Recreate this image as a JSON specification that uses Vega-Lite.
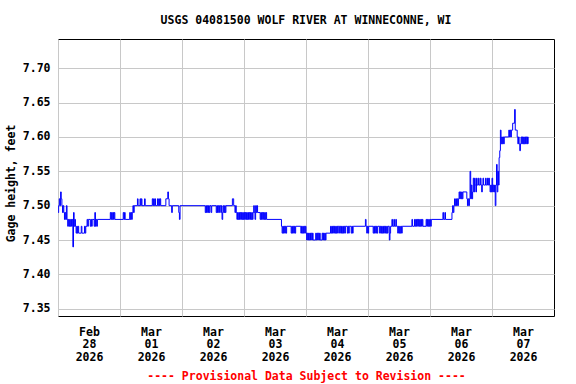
{
"$schema": "https://vega.github.io/schema/vega-lite/v6.json",
"width": 496, "height": 277,
"autosize": {"type": "none"},
"padding": {"left": 58, "top": 39, "right": 22, "bottom": 68},
"background": "white",
"title": {"text": "USGS 04081500 WOLF RIVER AT WINNECONNE, WI", "font": "DejaVu Sans Mono", "fontSize": 11.5, "fontWeight": "bold", "color": "black", "anchor": "middle", "frame": "group", "baseline": "alphabetic", "offset": 15, "dy": 11},
"config": {"view": {"stroke": "black", "strokeWidth": 1},
 "axis": {"labelFont": "DejaVu Sans Mono", "labelFontSize": 11.5, "labelFontWeight": "bold", "labelColor": "black", "titleFont": "DejaVu Sans Mono", "titleFontSize": 11.5, "titleFontWeight": "bold", "titleColor": "black", "gridColor": "#c8c8c8", "gridOpacity": 1, "gridWidth": 1, "domain": false, "ticks": false}},
"data": {"values": [
{"t":"2026-02-28T00:00","v":7.49},{"t":"2026-02-28T00:15","v":7.50},{"t":"2026-02-28T00:30","v":7.51},{"t":"2026-02-28T00:45","v":7.50},{"t":"2026-02-28T01:00","v":7.52},{"t":"2026-02-28T01:15","v":7.51},{"t":"2026-02-28T01:30","v":7.50},{"t":"2026-02-28T01:45","v":7.49},{"t":"2026-02-28T02:00","v":7.50},{"t":"2026-02-28T02:15","v":7.49},{"t":"2026-02-28T02:30","v":7.48},{"t":"2026-02-28T02:45","v":7.49},{"t":"2026-02-28T03:00","v":7.48},{"t":"2026-02-28T03:15","v":7.50},{"t":"2026-02-28T03:30","v":7.48},{"t":"2026-02-28T03:45","v":7.47},{"t":"2026-02-28T04:00","v":7.48},{"t":"2026-02-28T04:15","v":7.47},{"t":"2026-02-28T04:30","v":7.48},{"t":"2026-02-28T04:45","v":7.47},{"t":"2026-02-28T05:00","v":7.48},{"t":"2026-02-28T05:15","v":7.47},{"t":"2026-02-28T05:30","v":7.48},{"t":"2026-02-28T05:45","v":7.44},{"t":"2026-02-28T06:00","v":7.49},{"t":"2026-02-28T06:15","v":7.47},{"t":"2026-02-28T06:30","v":7.48},{"t":"2026-02-28T06:45","v":7.47},{"t":"2026-02-28T07:00","v":7.46},{"t":"2026-02-28T07:15","v":7.47},{"t":"2026-02-28T07:30","v":7.46},{"t":"2026-02-28T07:45","v":7.47},{"t":"2026-02-28T08:00","v":7.46},{"t":"2026-02-28T09:00","v":7.47},{"t":"2026-02-28T09:15","v":7.46},{"t":"2026-02-28T10:15","v":7.47},{"t":"2026-02-28T10:30","v":7.46},{"t":"2026-02-28T10:45","v":7.47},{"t":"2026-02-28T11:15","v":7.48},{"t":"2026-02-28T11:30","v":7.47},{"t":"2026-02-28T11:45","v":7.48},{"t":"2026-02-28T12:30","v":7.47},{"t":"2026-02-28T12:45","v":7.48},{"t":"2026-02-28T13:00","v":7.47},{"t":"2026-02-28T13:15","v":7.48},{"t":"2026-02-28T14:00","v":7.47},{"t":"2026-02-28T14:15","v":7.49},{"t":"2026-02-28T14:30","v":7.47},{"t":"2026-02-28T14:45","v":7.48},{"t":"2026-02-28T15:00","v":7.47},{"t":"2026-02-28T15:15","v":7.48},{"t":"2026-02-28T20:15","v":7.49},{"t":"2026-02-28T20:30","v":7.48},{"t":"2026-02-28T20:45","v":7.49},{"t":"2026-02-28T21:00","v":7.48},{"t":"2026-02-28T21:15","v":7.49},{"t":"2026-02-28T21:30","v":7.48},{"t":"2026-02-28T21:45","v":7.49},{"t":"2026-02-28T22:00","v":7.48},
{"t":"2026-03-01T01:15","v":7.49},{"t":"2026-03-01T01:30","v":7.48},{"t":"2026-03-01T01:45","v":7.49},{"t":"2026-03-01T02:00","v":7.48},{"t":"2026-03-01T03:45","v":7.49},{"t":"2026-03-01T04:00","v":7.48},{"t":"2026-03-01T04:15","v":7.49},{"t":"2026-03-01T04:30","v":7.48},{"t":"2026-03-01T04:45","v":7.49},{"t":"2026-03-01T05:00","v":7.50},{"t":"2026-03-01T05:15","v":7.49},{"t":"2026-03-01T05:30","v":7.50},{"t":"2026-03-01T06:45","v":7.51},{"t":"2026-03-01T07:00","v":7.50},{"t":"2026-03-01T07:45","v":7.51},{"t":"2026-03-01T08:00","v":7.50},{"t":"2026-03-01T08:15","v":7.51},{"t":"2026-03-01T08:30","v":7.50},{"t":"2026-03-01T09:30","v":7.51},{"t":"2026-03-01T09:45","v":7.50},{"t":"2026-03-01T12:30","v":7.51},{"t":"2026-03-01T12:45","v":7.50},{"t":"2026-03-01T13:00","v":7.51},{"t":"2026-03-01T13:15","v":7.50},{"t":"2026-03-01T13:30","v":7.51},{"t":"2026-03-01T13:45","v":7.50},{"t":"2026-03-01T14:30","v":7.51},{"t":"2026-03-01T14:45","v":7.50},{"t":"2026-03-01T15:00","v":7.51},{"t":"2026-03-01T15:15","v":7.50},{"t":"2026-03-01T15:30","v":7.51},{"t":"2026-03-01T15:45","v":7.50},{"t":"2026-03-01T17:45","v":7.51},{"t":"2026-03-01T18:30","v":7.52},{"t":"2026-03-01T18:45","v":7.51},{"t":"2026-03-01T19:00","v":7.50},{"t":"2026-03-01T20:00","v":7.49},{"t":"2026-03-01T20:15","v":7.50},{"t":"2026-03-01T22:45","v":7.49},{"t":"2026-03-01T23:00","v":7.48},{"t":"2026-03-01T23:15","v":7.50},
{"t":"2026-03-02T09:00","v":7.49},{"t":"2026-03-02T09:15","v":7.50},{"t":"2026-03-02T09:30","v":7.49},{"t":"2026-03-02T09:45","v":7.50},{"t":"2026-03-02T10:00","v":7.49},{"t":"2026-03-02T10:15","v":7.50},{"t":"2026-03-02T10:30","v":7.49},{"t":"2026-03-02T10:45","v":7.50},{"t":"2026-03-02T11:15","v":7.49},{"t":"2026-03-02T11:30","v":7.50},{"t":"2026-03-02T13:15","v":7.49},{"t":"2026-03-02T13:30","v":7.50},{"t":"2026-03-02T13:45","v":7.49},{"t":"2026-03-02T14:00","v":7.50},{"t":"2026-03-02T14:15","v":7.49},{"t":"2026-03-02T14:30","v":7.50},{"t":"2026-03-02T15:00","v":7.49},{"t":"2026-03-02T15:15","v":7.50},{"t":"2026-03-02T15:30","v":7.48},{"t":"2026-03-02T15:45","v":7.49},{"t":"2026-03-02T16:00","v":7.50},{"t":"2026-03-02T16:15","v":7.49},{"t":"2026-03-02T16:30","v":7.50},{"t":"2026-03-02T16:45","v":7.49},{"t":"2026-03-02T17:00","v":7.50},{"t":"2026-03-02T19:30","v":7.51},{"t":"2026-03-02T20:00","v":7.50},{"t":"2026-03-02T20:30","v":7.49},{"t":"2026-03-02T20:45","v":7.50},{"t":"2026-03-02T21:00","v":7.49},{"t":"2026-03-02T21:15","v":7.48},{"t":"2026-03-02T21:30","v":7.49},{"t":"2026-03-02T21:45","v":7.48},{"t":"2026-03-02T22:00","v":7.49},{"t":"2026-03-02T22:15","v":7.48},{"t":"2026-03-02T22:30","v":7.49},{"t":"2026-03-02T22:45","v":7.48},{"t":"2026-03-02T23:00","v":7.49},{"t":"2026-03-02T23:15","v":7.48},{"t":"2026-03-02T23:30","v":7.49},{"t":"2026-03-02T23:45","v":7.48},
{"t":"2026-03-03T00:00","v":7.49},{"t":"2026-03-03T00:15","v":7.48},{"t":"2026-03-03T00:30","v":7.49},{"t":"2026-03-03T00:45","v":7.48},{"t":"2026-03-03T01:00","v":7.49},{"t":"2026-03-03T01:15","v":7.48},{"t":"2026-03-03T01:30","v":7.49},{"t":"2026-03-03T01:45","v":7.48},{"t":"2026-03-03T02:00","v":7.49},{"t":"2026-03-03T02:15","v":7.48},{"t":"2026-03-03T02:30","v":7.49},{"t":"2026-03-03T02:45","v":7.48},{"t":"2026-03-03T03:00","v":7.49},{"t":"2026-03-03T03:15","v":7.48},{"t":"2026-03-03T03:30","v":7.49},{"t":"2026-03-03T03:45","v":7.50},{"t":"2026-03-03T04:00","v":7.49},{"t":"2026-03-03T04:15","v":7.48},{"t":"2026-03-03T04:30","v":7.50},{"t":"2026-03-03T04:45","v":7.49},{"t":"2026-03-03T05:00","v":7.50},{"t":"2026-03-03T05:15","v":7.49},{"t":"2026-03-03T06:15","v":7.48},{"t":"2026-03-03T06:30","v":7.49},{"t":"2026-03-03T06:45","v":7.48},{"t":"2026-03-03T07:00","v":7.49},{"t":"2026-03-03T07:15","v":7.48},{"t":"2026-03-03T07:30","v":7.49},{"t":"2026-03-03T07:45","v":7.48},{"t":"2026-03-03T08:00","v":7.49},{"t":"2026-03-03T08:15","v":7.48},{"t":"2026-03-03T08:30","v":7.49},{"t":"2026-03-03T08:45","v":7.48},{"t":"2026-03-03T14:30","v":7.47},{"t":"2026-03-03T14:45","v":7.46},{"t":"2026-03-03T15:00","v":7.47},{"t":"2026-03-03T15:15","v":7.46},{"t":"2026-03-03T15:30","v":7.47},{"t":"2026-03-03T15:45","v":7.46},{"t":"2026-03-03T16:00","v":7.47},{"t":"2026-03-03T16:15","v":7.46},{"t":"2026-03-03T16:30","v":7.47},{"t":"2026-03-03T18:15","v":7.46},{"t":"2026-03-03T18:30","v":7.47},{"t":"2026-03-03T18:45","v":7.46},{"t":"2026-03-03T19:00","v":7.47},{"t":"2026-03-03T19:15","v":7.46},{"t":"2026-03-03T19:30","v":7.47},{"t":"2026-03-03T19:45","v":7.46},{"t":"2026-03-03T20:00","v":7.47},{"t":"2026-03-03T22:00","v":7.46},{"t":"2026-03-03T22:15","v":7.47},{"t":"2026-03-03T22:30","v":7.46},{"t":"2026-03-03T22:45","v":7.47},{"t":"2026-03-03T23:00","v":7.46},{"t":"2026-03-03T23:15","v":7.47},{"t":"2026-03-03T23:30","v":7.46},{"t":"2026-03-03T23:45","v":7.47},
{"t":"2026-03-04T00:00","v":7.46},{"t":"2026-03-04T00:15","v":7.45},{"t":"2026-03-04T00:30","v":7.46},{"t":"2026-03-04T00:45","v":7.45},{"t":"2026-03-04T01:00","v":7.46},{"t":"2026-03-04T01:15","v":7.45},{"t":"2026-03-04T01:30","v":7.46},{"t":"2026-03-04T01:45","v":7.45},{"t":"2026-03-04T02:00","v":7.46},{"t":"2026-03-04T02:15","v":7.45},{"t":"2026-03-04T02:30","v":7.46},{"t":"2026-03-04T02:45","v":7.45},{"t":"2026-03-04T03:45","v":7.46},{"t":"2026-03-04T04:00","v":7.45},{"t":"2026-03-04T04:15","v":7.46},{"t":"2026-03-04T04:30","v":7.45},{"t":"2026-03-04T04:45","v":7.46},{"t":"2026-03-04T05:00","v":7.45},{"t":"2026-03-04T05:15","v":7.46},{"t":"2026-03-04T05:30","v":7.45},{"t":"2026-03-04T06:15","v":7.46},{"t":"2026-03-04T06:30","v":7.45},{"t":"2026-03-04T06:45","v":7.46},{"t":"2026-03-04T07:00","v":7.45},{"t":"2026-03-04T07:15","v":7.46},{"t":"2026-03-04T07:30","v":7.45},{"t":"2026-03-04T07:45","v":7.46},{"t":"2026-03-04T09:30","v":7.47},{"t":"2026-03-04T09:45","v":7.46},{"t":"2026-03-04T10:00","v":7.47},{"t":"2026-03-04T10:15","v":7.46},{"t":"2026-03-04T10:30","v":7.47},{"t":"2026-03-04T10:45","v":7.46},{"t":"2026-03-04T11:00","v":7.47},{"t":"2026-03-04T11:15","v":7.46},{"t":"2026-03-04T11:30","v":7.47},{"t":"2026-03-04T11:45","v":7.46},{"t":"2026-03-04T12:00","v":7.47},{"t":"2026-03-04T12:15","v":7.46},{"t":"2026-03-04T12:30","v":7.47},{"t":"2026-03-04T13:00","v":7.46},{"t":"2026-03-04T13:15","v":7.47},{"t":"2026-03-04T13:30","v":7.46},{"t":"2026-03-04T13:45","v":7.47},{"t":"2026-03-04T14:00","v":7.46},{"t":"2026-03-04T14:15","v":7.47},{"t":"2026-03-04T14:30","v":7.46},{"t":"2026-03-04T14:45","v":7.47},{"t":"2026-03-04T15:00","v":7.46},{"t":"2026-03-04T15:15","v":7.47},{"t":"2026-03-04T16:00","v":7.46},{"t":"2026-03-04T16:15","v":7.47},{"t":"2026-03-04T16:30","v":7.46},{"t":"2026-03-04T16:45","v":7.47},{"t":"2026-03-04T17:30","v":7.46},{"t":"2026-03-04T17:45","v":7.47},{"t":"2026-03-04T18:00","v":7.46},{"t":"2026-03-04T18:15","v":7.47},{"t":"2026-03-04T23:00","v":7.48},{"t":"2026-03-04T23:15","v":7.47},{"t":"2026-03-04T23:30","v":7.46},{"t":"2026-03-04T23:45","v":7.47},
{"t":"2026-03-05T00:00","v":7.46},{"t":"2026-03-05T00:15","v":7.47},{"t":"2026-03-05T02:00","v":7.46},{"t":"2026-03-05T02:15","v":7.47},{"t":"2026-03-05T02:30","v":7.46},{"t":"2026-03-05T02:45","v":7.47},{"t":"2026-03-05T03:00","v":7.46},{"t":"2026-03-05T03:15","v":7.47},{"t":"2026-03-05T03:30","v":7.46},{"t":"2026-03-05T03:45","v":7.47},{"t":"2026-03-05T04:30","v":7.46},{"t":"2026-03-05T04:45","v":7.47},{"t":"2026-03-05T05:00","v":7.46},{"t":"2026-03-05T05:15","v":7.47},{"t":"2026-03-05T05:30","v":7.46},{"t":"2026-03-05T05:45","v":7.47},{"t":"2026-03-05T06:00","v":7.46},{"t":"2026-03-05T06:15","v":7.47},{"t":"2026-03-05T06:30","v":7.46},{"t":"2026-03-05T06:45","v":7.47},{"t":"2026-03-05T07:00","v":7.46},{"t":"2026-03-05T07:15","v":7.47},{"t":"2026-03-05T07:30","v":7.46},{"t":"2026-03-05T07:45","v":7.47},{"t":"2026-03-05T08:15","v":7.45},{"t":"2026-03-05T08:30","v":7.46},{"t":"2026-03-05T08:45","v":7.47},{"t":"2026-03-05T09:15","v":7.48},{"t":"2026-03-05T09:30","v":7.47},{"t":"2026-03-05T10:00","v":7.48},{"t":"2026-03-05T10:15","v":7.47},{"t":"2026-03-05T10:45","v":7.48},{"t":"2026-03-05T11:00","v":7.47},{"t":"2026-03-05T11:30","v":7.46},{"t":"2026-03-05T11:45","v":7.47},{"t":"2026-03-05T12:00","v":7.46},{"t":"2026-03-05T12:15","v":7.47},{"t":"2026-03-05T12:30","v":7.46},{"t":"2026-03-05T12:45","v":7.47},{"t":"2026-03-05T13:00","v":7.46},{"t":"2026-03-05T13:15","v":7.47},{"t":"2026-03-05T17:00","v":7.48},{"t":"2026-03-05T17:15","v":7.47},{"t":"2026-03-05T18:00","v":7.48},{"t":"2026-03-05T18:15","v":7.47},{"t":"2026-03-05T18:30","v":7.48},{"t":"2026-03-05T18:45","v":7.47},{"t":"2026-03-05T19:00","v":7.48},{"t":"2026-03-05T19:15","v":7.47},{"t":"2026-03-05T19:30","v":7.48},{"t":"2026-03-05T19:45","v":7.47},{"t":"2026-03-05T20:00","v":7.48},{"t":"2026-03-05T20:15","v":7.47},{"t":"2026-03-05T20:30","v":7.48},{"t":"2026-03-05T20:45","v":7.47},{"t":"2026-03-05T21:00","v":7.48},{"t":"2026-03-05T21:15","v":7.47},{"t":"2026-03-05T22:30","v":7.48},{"t":"2026-03-05T22:45","v":7.47},{"t":"2026-03-05T23:00","v":7.48},{"t":"2026-03-05T23:15","v":7.47},{"t":"2026-03-05T23:30","v":7.48},{"t":"2026-03-05T23:45","v":7.47},
{"t":"2026-03-06T00:00","v":7.48},{"t":"2026-03-06T00:15","v":7.47},{"t":"2026-03-06T00:30","v":7.48},{"t":"2026-03-06T05:00","v":7.49},{"t":"2026-03-06T05:15","v":7.48},{"t":"2026-03-06T05:45","v":7.49},{"t":"2026-03-06T06:00","v":7.48},{"t":"2026-03-06T08:30","v":7.49},{"t":"2026-03-06T08:45","v":7.50},{"t":"2026-03-06T09:00","v":7.49},{"t":"2026-03-06T09:15","v":7.50},{"t":"2026-03-06T09:30","v":7.51},{"t":"2026-03-06T09:45","v":7.50},{"t":"2026-03-06T10:00","v":7.51},{"t":"2026-03-06T10:15","v":7.50},{"t":"2026-03-06T10:30","v":7.51},{"t":"2026-03-06T10:45","v":7.50},{"t":"2026-03-06T11:00","v":7.51},{"t":"2026-03-06T11:15","v":7.52},{"t":"2026-03-06T11:30","v":7.51},{"t":"2026-03-06T11:45","v":7.52},{"t":"2026-03-06T12:00","v":7.51},{"t":"2026-03-06T12:15","v":7.52},{"t":"2026-03-06T12:30","v":7.51},{"t":"2026-03-06T12:45","v":7.52},{"t":"2026-03-06T14:15","v":7.51},{"t":"2026-03-06T14:30","v":7.50},{"t":"2026-03-06T14:45","v":7.51},{"t":"2026-03-06T15:00","v":7.50},{"t":"2026-03-06T15:15","v":7.51},{"t":"2026-03-06T15:30","v":7.55},{"t":"2026-03-06T15:45","v":7.51},{"t":"2026-03-06T16:00","v":7.53},{"t":"2026-03-06T16:15","v":7.51},{"t":"2026-03-06T16:30","v":7.52},{"t":"2026-03-06T16:45","v":7.54},{"t":"2026-03-06T17:00","v":7.52},{"t":"2026-03-06T17:15","v":7.54},{"t":"2026-03-06T17:30","v":7.53},{"t":"2026-03-06T17:45","v":7.52},{"t":"2026-03-06T18:00","v":7.54},{"t":"2026-03-06T18:15","v":7.53},{"t":"2026-03-06T18:45","v":7.54},{"t":"2026-03-06T19:00","v":7.53},{"t":"2026-03-06T19:30","v":7.54},{"t":"2026-03-06T19:45","v":7.53},{"t":"2026-03-06T20:00","v":7.52},{"t":"2026-03-06T20:15","v":7.53},{"t":"2026-03-06T20:30","v":7.54},{"t":"2026-03-06T20:45","v":7.53},{"t":"2026-03-06T21:30","v":7.54},{"t":"2026-03-06T21:45","v":7.53},{"t":"2026-03-06T22:15","v":7.54},{"t":"2026-03-06T22:30","v":7.53},{"t":"2026-03-06T22:45","v":7.54},{"t":"2026-03-06T23:00","v":7.53},{"t":"2026-03-06T23:15","v":7.52},{"t":"2026-03-06T23:30","v":7.53},{"t":"2026-03-06T23:45","v":7.52},
{"t":"2026-03-07T00:00","v":7.54},{"t":"2026-03-07T00:15","v":7.52},{"t":"2026-03-07T00:30","v":7.53},{"t":"2026-03-07T00:45","v":7.52},{"t":"2026-03-07T01:00","v":7.53},{"t":"2026-03-07T01:15","v":7.50},{"t":"2026-03-07T01:30","v":7.53},{"t":"2026-03-07T01:45","v":7.56},{"t":"2026-03-07T02:00","v":7.52},{"t":"2026-03-07T02:15","v":7.55},{"t":"2026-03-07T02:30","v":7.53},{"t":"2026-03-07T02:45","v":7.57},{"t":"2026-03-07T03:00","v":7.58},{"t":"2026-03-07T03:15","v":7.61},{"t":"2026-03-07T03:30","v":7.59},{"t":"2026-03-07T03:45","v":7.60},{"t":"2026-03-07T04:00","v":7.59},{"t":"2026-03-07T04:15","v":7.60},{"t":"2026-03-07T04:30","v":7.59},{"t":"2026-03-07T04:45","v":7.60},{"t":"2026-03-07T06:30","v":7.61},{"t":"2026-03-07T06:45","v":7.60},{"t":"2026-03-07T07:00","v":7.61},{"t":"2026-03-07T07:15","v":7.60},{"t":"2026-03-07T07:30","v":7.61},{"t":"2026-03-07T08:00","v":7.62},{"t":"2026-03-07T08:45","v":7.64},{"t":"2026-03-07T09:00","v":7.61},{"t":"2026-03-07T09:45","v":7.60},{"t":"2026-03-07T10:00","v":7.59},{"t":"2026-03-07T10:15","v":7.60},{"t":"2026-03-07T10:30","v":7.59},{"t":"2026-03-07T10:45","v":7.58},{"t":"2026-03-07T11:00","v":7.59},{"t":"2026-03-07T11:15","v":7.60},{"t":"2026-03-07T11:30","v":7.59},{"t":"2026-03-07T11:45","v":7.60},{"t":"2026-03-07T12:00","v":7.59},{"t":"2026-03-07T12:15","v":7.60},{"t":"2026-03-07T12:30","v":7.59},{"t":"2026-03-07T12:45","v":7.60},{"t":"2026-03-07T13:00","v":7.59},{"t":"2026-03-07T13:15","v":7.60},{"t":"2026-03-07T13:30","v":7.59},{"t":"2026-03-07T13:45","v":7.60},{"t":"2026-03-07T14:00","v":7.59}
]},
"mark": {"type": "line", "interpolate": "step-after", "color": "#0000ff", "strokeWidth": 1},
"encoding": {
 "x": {"field": "t", "type": "temporal",
  "scale": {"domain": [{"year": 2026, "month": 2, "date": 28}, {"year": 2026, "month": 3, "date": 8}]},
  "axis": {"values": [{"year": 2026, "month": 2, "date": 28}, {"year": 2026, "month": 3, "date": 1}, {"year": 2026, "month": 3, "date": 2}, {"year": 2026, "month": 3, "date": 3}, {"year": 2026, "month": 3, "date": 4}, {"year": 2026, "month": 3, "date": 5}, {"year": 2026, "month": 3, "date": 6}, {"year": 2026, "month": 3, "date": 7}],
   "labelOffset": 31, "labelFlush": false, "labelOverlap": false, "labelPadding": 10, "labelLineHeight": 12.7,
   "labelExpr": "[timeFormat(datum.value, '%b'), timeFormat(datum.value, '%d'), timeFormat(datum.value, '%Y')]",
   "title": "---- Provisional Data Subject to Revision ----", "titleColor": "#ff0000", "titleY": 63, "titleBaseline": "alphabetic"}},
 "y": {"field": "v", "type": "quantitative",
  "scale": {"domain": [7.3394, 7.7426], "nice": false, "zero": false},
  "axis": {"values": [7.35, 7.4, 7.45, 7.5, 7.55, 7.6, 7.65, 7.7], "format": ".2f", "labelPadding": 8,
   "title": "Gage height, feet", "titleX": -47, "titleY": 144, "titleAngle": -90, "titleBaseline": "middle", "titleAlign": "center"}}
}
}
